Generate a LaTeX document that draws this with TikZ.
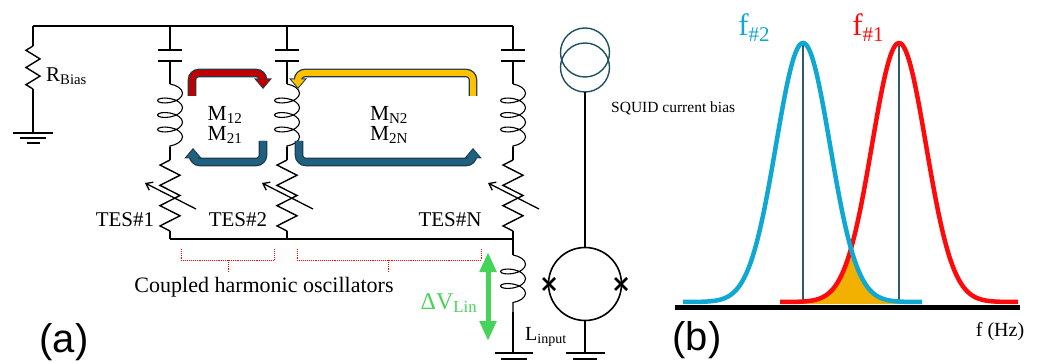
\documentclass[tikz,border=0pt]{standalone}
\usepackage{fontspec}
\setmainfont{Liberation Serif}
\newfontfamily\labfont{Liberation Sans}
\usetikzlibrary{arrows.meta,decorations.pathmorphing}
\definecolor{outl}{HTML}{1E3B4D}
\definecolor{mred}{HTML}{C00000}
\definecolor{myel}{HTML}{FFC000}
\definecolor{mblue}{HTML}{1F5F80}
\definecolor{srcc}{HTML}{1F4E5F}
\definecolor{vgreen}{HTML}{46D35A}
\definecolor{cblue}{HTML}{0FA8D2}
\definecolor{cred}{HTML}{FF0A0A}
\definecolor{corange}{HTML}{F2B000}
\definecolor{vline}{HTML}{2E5B6E}
\newcommand\resz[5]{\draw[wire,line join=miter] (#1,#2) \foreach \k in {1,...,#5} { -- ({#1+#4*(1-2*mod(\k,2))},{#2+(\k-0.5)*(#3-#2)/#5}) } -- (#1,#3);}
\newcommand\mband[2]{%
  \draw[line width=8.6pt, color=outl, rounded corners=7pt, -{Triangle[length=10.5pt,width=17pt]}] #2;
  \draw[line width=6pt, color=#1, rounded corners=7pt, shorten >=1.6pt, -{Triangle[length=8pt,width=13pt]}] #2;}
\begin{document}
\begin{tikzpicture}[x=1pt,y=-1pt,
  wire/.style={line width=1.4pt},
  rail/.style={line width=2.4pt},
  plate/.style={line width=2pt},
  coilw/.style={line width=1.1pt, decorate, decoration={coil, amplitude=12.5pt, segment length=14.5pt, aspect=0.45}},
  varr/.style={line width=1.3pt, -{Straight Barb[length=6pt,width=9pt]}},
  bracew/.style={red, line width=0.9pt, densely dotted},
  txt/.style={inner sep=0pt, font=\fontsize{21}{21}\selectfont},
  mtxt/.style={inner sep=0pt, font=\fontsize{21.5}{21.5}\selectfont},
  lab/.style={inner sep=0pt, font=\labfont\fontsize{40}{40}\selectfont},
  gcurve/.style={line width=4.5pt, samples=150}]
\useasboundingbox (0,0) rectangle (1038,363);

% ---------- panel (a) ----------
\draw[rail] (33,26) -- (513,26);
\draw[rail] (170,239) -- (514,239);
% R_Bias
\draw[wire] (33,26) -- (33,46);
\resz{33}{46}{89}{7}{5}
\draw[wire] (33,89) -- (33,133);
\draw[wire] (13,133) -- (53,133);
\draw[wire] (20,138) -- (46,138);
\draw[wire] (27,143) -- (40,143);
\node[txt, anchor=west] (rb) at (46,76) {R\textsubscript{Bias}};

% branches
\foreach \bx in {170,287,513} {
  \draw[wire] (\bx,26) -- (\bx,50);
  \draw[plate] (\bx-12,50) -- (\bx+12,50);
  \draw[plate] (\bx-12,61) -- (\bx+12,61);
  \draw[wire] (\bx,61) -- (\bx,84);
  \draw[coilw] (\bx,84) -- (\bx,147);
  \draw[wire] (\bx,147) -- (\bx,160);
  \resz{\bx}{160}{231}{10}{7}
  \draw[wire] (\bx,231) -- (\bx,239);
  \draw[varr] (\bx+26,209) -- (\bx-25,183);
}
\node[txt] (t1) at (125,220) {TES\#1};
\node[txt] (t2) at (238,220) {TES\#2};
\node[txt] (tn) at (450,220) {TES\#N};

% coupling arrows
\mband{mred}{(192,96) -- (192,73) -- (263,73) -- (263,89)}
\mband{myel}{(473,96) -- (473,73) -- (298,73) -- (298,89)}
\mband{mblue}{(263,141) -- (263,162) -- (193,162) -- (193,148)}
\mband{mblue}{(299,141) -- (299,162) -- (473,162) -- (473,148)}
\node[mtxt] (m12) at (225,115) {M\textsubscript{12}};
\node[mtxt] (m21) at (225,135) {M\textsubscript{21}};
\node[mtxt] (mn2) at (389,115) {M\textsubscript{N2}};
\node[mtxt] (m2n) at (389,135) {M\textsubscript{2N}};

% braces
\draw[bracew] (181,249) -- (181,260) -- (274,260) -- (274,249);
\draw[bracew] (228,260) -- (228,272);
\draw[bracew] (297,249) -- (297,260) -- (481,260) -- (481,249);
\draw[bracew] (388,260) -- (388,272);
\node[txt, font=\fontsize{22}{22}\selectfont] (cho) at (264,287) {Coupled harmonic oscillators};

% L_input
\draw[wire] (513,239) -- (513,255);
\draw[coilw] (513,255) -- (513,312);
\draw[wire] (513,312) -- (513,353);
\draw[wire] (495,353) -- (533,353);
\draw[wire] (501,359) -- (527,359);
\node[txt, anchor=west, font=\fontsize{20}{20}\selectfont] (lin) at (525,337) {L\textsubscript{input}};

% Delta V
\draw[vgreen, line width=5pt, {Triangle[length=20pt,width=16pt]}-{Triangle[length=20pt,width=16pt]}] (488,252) -- (488,341);
\node[txt, text=vgreen, font=\fontsize{24}{24}\selectfont] (dv) at (449,303) {ΔV\textsubscript{Lin}};

% SQUID
\draw[srcc, line width=1.4pt] (585,52.5) circle[radius=24.5];
\draw[srcc, line width=1.4pt] (585,67.5) circle[radius=24.5];
\draw[line width=2pt] (585,92) -- (585,247.5);
\draw[line width=1.6pt] (585,284) circle[radius=36.5];
\draw[line width=2.6pt] (543,278) -- (555,290) (543,290) -- (555,278);
\draw[line width=2.6pt] (615,278) -- (627,290) (615,290) -- (627,278);
\draw[wire] (585,320.5) -- (585,353);
\draw[wire] (566,353) -- (605,353);
\draw[wire] (573,359) -- (597,359);
\node[txt, anchor=west, font=\fontsize{15.5}{15.5}\selectfont] (sq) at (611,108) {SQUID current bias};

\node[lab, anchor=base] (la) at (64,352) {(a)};

% ---------- panel (b) ----------
\fill[corange] (780,304) -- plot[domain=780:922, samples=150] (\x,{302-259*min(exp(-0.5*((\x-803)/27)^2),exp(-0.5*((\x-899)/27)^2))}) -- (922,304) -- cycle;
\draw[vline, line width=1.3pt] (803,44) -- (803,303);
\draw[vline, line width=1.3pt] (899,44) -- (899,303);
\draw[cred, gcurve, domain=780:1018] plot (\x,{302-259*exp(-0.5*((\x-899)/27)^2)});
\draw[cblue, gcurve, domain=683:922] plot (\x,{302-259*exp(-0.5*((\x-803)/27)^2)});
\draw[line width=5pt] (675,307) -- (1020,307);
\node[inner sep=0pt, text=cblue, font=\fontsize{31}{31}\selectfont] (f2) at (754,28) {f\raisebox{-6pt}{\fontsize{21}{21}\selectfont\#2}};
\node[inner sep=0pt, text=cred, font=\fontsize{31}{31}\selectfont] (f1) at (868,28) {f\raisebox{-6pt}{\fontsize{21}{21}\selectfont\#1}};
\node[txt, font=\fontsize{20}{20}\selectfont] (fhz) at (1000,332) {f (Hz)};
\node[lab, anchor=base] (lb) at (697,350) {(b)};
\end{tikzpicture}
\end{document}
